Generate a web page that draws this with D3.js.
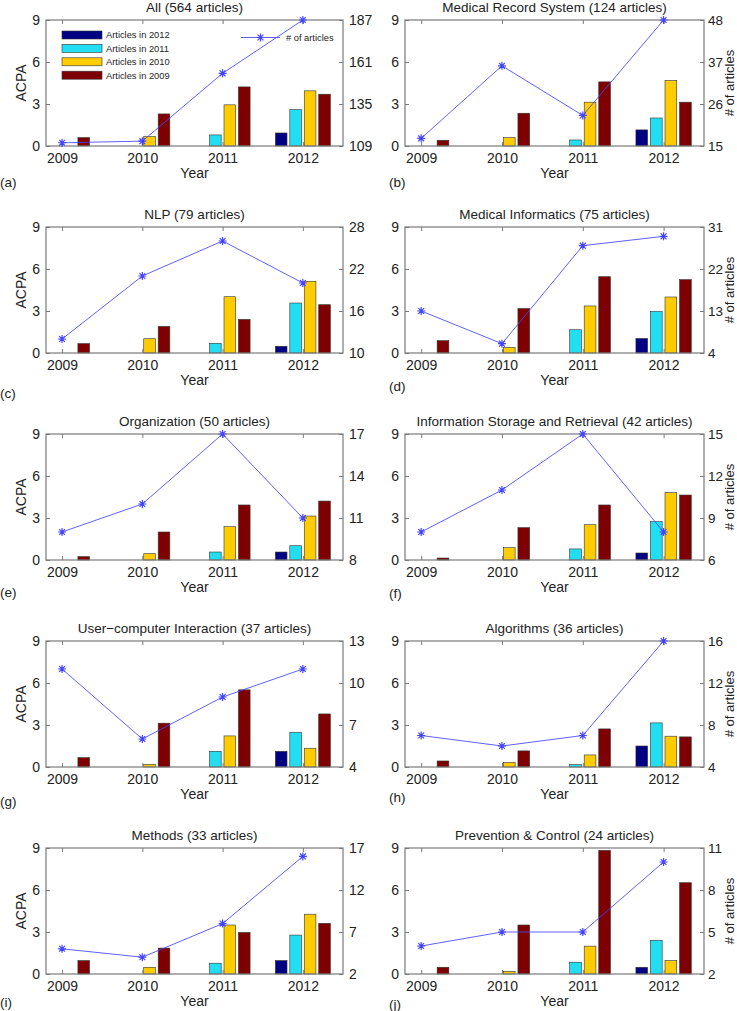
<!DOCTYPE html>
<html><head><meta charset="utf-8">
<script src="https://cdn.jsdelivr.net/npm/d3@7"></script>
<style>body{margin:0;background:#fff}svg{display:block;font-family:"Liberation Sans",Arial,sans-serif}</style>
</head><body><svg id="c" width="737" height="1011"></svg>
<script>
const years = [2009, 2010, 2011, 2012];
const seriesNames = ["Articles in 2012", "Articles in 2011", "Articles in 2010", "Articles in 2009"];
const seriesColors = ["#000085", "#22def2", "#ffcc00", "#7f0000"];
const titles = ["All (564 articles)", "Medical Record System (124 articles)", "NLP (79 articles)", "Medical Informatics (75 articles)", "Organization (50 articles)", "Information Storage and Retrieval (42 articles)", "User\u2212computer Interaction (37 articles)", "Algorithms (36 articles)", "Methods (33 articles)", "Prevention & Control (24 articles)"];
const panelLabels = ["(a)", "(b)", "(c)", "(d)", "(e)", "(f)", "(g)", "(h)", "(i)", "(j)"];
const acpaTicks = [0, 3, 6, 9];
// right-axis tick labels (# of articles)
const rightTicks = [[109,135,161,187],[15,26,37,48],[10,16,22,28],[4,13,22,31],[8,11,14,17],[6,9,12,15],[4,7,10,13],[4,8,12,16],[2,7,12,17],[2,5,8,11]];
// # of articles per year
const articles = [[111,112,154,187],[17,36,23,48],[12,21,26,20],[13,6,27,29],[10,12,17,11],[8,11,15,8],[11,6,9,11],[7,6,7,16],[5,4,8,16],[4,5,5,10]];
// ACPA of articles published in each year, per year of citation
const acpa2012 = [[0,0,0,0.93],[0,0,0,1.15],[0,0,0,0.48],[0,0,0,1.04],[0,0,0,0.57],[0,0,0,0.5],[0,0,0,1.12],[0,0,0,1.5],[0,0,0,0.96],[0,0,0,0.48]];
const acpa2011 = [[0,0,0.79,2.6],[0,0,0.43,2.0],[0,0,0.69,3.57],[0,0,1.66,2.96],[0,0,0.57,1.02],[0,0,0.79,2.74],[0,0,1.12,2.48],[0,0,0.17,3.15],[0,0,0.77,2.78],[0,0,0.84,2.4]];
const acpa2010 = [[0,0.67,2.94,3.94],[0,0.6,3.13,4.68],[0,1.02,4.02,5.12],[0,0.4,3.36,4.0],[0,0.45,2.38,3.14],[0,0.88,2.52,4.81],[0,0.19,2.22,1.34],[0,0.33,0.86,2.2],[0,0.48,3.5,4.27],[0,0.19,1.99,0.96]];
const acpa2009 = [[0.6,2.29,4.22,3.7],[0.41,2.34,4.58,3.13],[0.67,1.9,2.4,3.45],[0.88,3.18,5.45,5.24],[0.24,2.0,3.93,4.21],[0.14,2.31,3.93,4.64],[0.67,3.13,5.51,3.79],[0.43,1.15,2.72,2.15],[0.96,1.85,2.97,3.62],[0.48,3.5,8.83,6.52]];
const labelOffsets = [36,36,40,33,32,33,34,30,28,30];

const svg = d3.select("#c");
const colX = [[46, 343], [405, 704]];
const tops = [20, 227, 434, 641, 848];
const H = 126;
const boxColor = "#7a7a7a";
const lineColor = "#4444ff";

function star(g, x, y) {
  const s = 4, d = 2.9;
  g.append("path").attr("transform", `translate(${x},${y})`)
    .attr("d", `M${-s},0H${s}M0,${-s}V${s}M${-d},${-d}L${d},${d}M${-d},${d}L${d},${-d}`)
    .attr("stroke", lineColor).attr("stroke-width", 1.2).attr("fill", "none");
}

for (let p = 0; p < 10; p++) {
  const col = p % 2, row = Math.floor(p / 2);
  const [x0, x1] = colX[col];
  const y0 = tops[row], y1 = y0 + H;
  const g = svg.append("g");
  const x = d3.scaleLinear().domain([0.8, 4.5]).range([x0, x1]);
  const yL = d3.scaleLinear().domain([0, 9]).range([y1, y0]);
  const rt = rightTicks[p];
  const yR = d3.scaleLinear().domain([rt[0], rt[3]]).range([y1, y0]);

  // bars
  const series = [acpa2012[p], acpa2011[p], acpa2010[p], acpa2009[p]];
  const unit = x(2) - x(1);
  series.forEach((vals, si) => {
    vals.forEach((v, yi) => {
      if (v <= 0) return;
      const cx = x(yi + 1) + (si - 1.5) * 0.18 * unit;
      const w = 0.145 * unit;
      g.append("rect").attr("x", cx - w / 2).attr("y", yL(v)).attr("width", w).attr("height", yL(0) - yL(v))
        .attr("fill", seriesColors[si]).attr("stroke", "#333").attr("stroke-width", 0.6);
    });
  });

  // box
  g.append("rect").attr("x", x0).attr("y", y0).attr("width", x1 - x0).attr("height", H)
    .attr("fill", "none").attr("stroke", boxColor).attr("stroke-width", 1.2);

  // left axis
  const la = g.append("g").attr("transform", `translate(${x0},0)`)
    .call(d3.axisLeft(yL).tickValues(acpaTicks).tickSize(-4).tickPadding(6).tickFormat(d3.format("d")));
  la.select(".domain").remove();
  la.selectAll("line").attr("stroke", boxColor);
  la.selectAll("text").attr("font-size", 14).attr("fill", "#222").attr("font-family", "Liberation Sans, Arial");
  // right axis
  const ra = g.append("g").attr("transform", `translate(${x1},0)`)
    .call(d3.axisRight(yR).tickValues(rt).tickSize(-4).tickPadding(col === 0 ? 6 : 4).tickFormat(d3.format("d")));
  ra.select(".domain").remove();
  ra.selectAll("line").attr("stroke", boxColor);
  ra.selectAll("text").attr("font-size", col === 0 ? 14 : 13.5).attr("fill", "#222").attr("font-family", "Liberation Sans, Arial");
  // bottom axis
  const ba = g.append("g").attr("transform", `translate(0,${y1})`)
    .call(d3.axisBottom(x).tickValues([1, 2, 3, 4]).tickSize(-4).tickPadding(7).tickFormat((d, i) => years[i]));
  ba.select(".domain").remove();
  ba.selectAll("line").attr("stroke", boxColor);
  ba.selectAll("text").attr("font-size", 14).attr("fill", "#222").attr("font-family", "Liberation Sans, Arial");
  // top ticks
  const ta = g.append("g").attr("transform", `translate(0,${y0})`)
    .call(d3.axisTop(x).tickValues([1, 2, 3, 4]).tickSize(-4).tickFormat(""));
  ta.select(".domain").remove();
  ta.selectAll("line").attr("stroke", boxColor);

  // line
  const line = d3.line().x((d, i) => x(i + 1)).y(d => yR(d));
  g.append("path").datum(articles[p]).attr("d", line).attr("fill", "none")
    .attr("stroke", lineColor).attr("stroke-width", 1).attr("stroke-opacity", 0.85);
  articles[p].forEach((v, i) => star(g, x(i + 1), yR(v)));

  // texts
  g.append("text").attr("x", (x0 + x1) / 2).attr("y", y0 - 8).attr("text-anchor", "middle")
    .attr("font-size", 13.5).attr("fill", "#222").text(titles[p]);
  g.append("text").attr("x", (x0 + x1) / 2).attr("y", y1 + 32).attr("text-anchor", "middle")
    .attr("font-size", 14).attr("fill", "#222").text("Year");
  g.append("text").attr("x", col === 0 ? 0 : 389).attr("y", y1 + labelOffsets[p] + 5)
    .attr("font-size", 13.5).attr("fill", "#222").text(panelLabels[p]);
  if (col === 0) {
    g.append("text").attr("transform", `translate(26,${(y0 + y1) / 2}) rotate(-90)`)
      .attr("text-anchor", "middle").attr("font-size", 14).attr("fill", "#222").text("ACPA");
  } else {
    g.append("text").attr("transform", `translate(734,${(y0 + y1) / 2}) rotate(-90)`)
      .attr("text-anchor", "middle").attr("font-size", 13).attr("fill", "#222").text("# of articles");
  }

  // legend (panel a)
  if (p === 0) {
    const lg = g.append("g");
    seriesNames.forEach((n, i) => {
      const yy = 35 + i * 13.4;
      lg.append("rect").attr("x", 62).attr("y", yy - 4).attr("width", 40).attr("height", 8)
        .attr("fill", seriesColors[i]).attr("stroke", "#333").attr("stroke-width", 0.6);
      lg.append("text").attr("x", 106).attr("y", yy + 3.3).attr("font-size", 9.3).attr("fill", "#222").text(n);
    });
    lg.append("line").attr("x1", 241).attr("x2", 280).attr("y1", 37.5).attr("y2", 37.5)
      .attr("stroke", lineColor).attr("stroke-width", 1).attr("stroke-opacity", 0.85);
    star(lg, 260.5, 37.5);
    lg.append("text").attr("x", 286).attr("y", 40.8).attr("font-size", 9.3).attr("fill", "#222").text("# of articles");
  }
}
</script>
</body></html>
